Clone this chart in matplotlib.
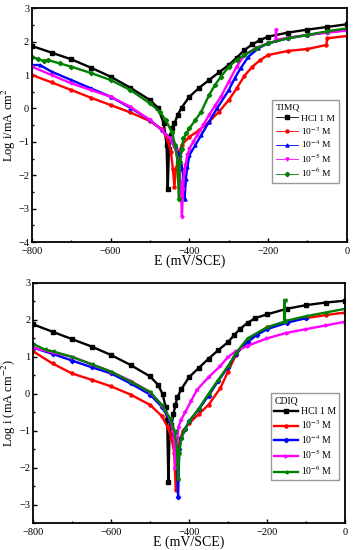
import matplotlib
matplotlib.use("Agg")
import matplotlib.pyplot as plt
from matplotlib.ticker import MultipleLocator

plt.rcParams["font.family"] = ["Liberation Serif", "DejaVu Serif"]
plt.rcParams["mathtext.fontset"] = "stix"

# --- TIMQ panel: potential (mV/SCE) and log i ---
timq_hcl_E = [-800, -750, -700, -650, -600, -550, -500, -480, -465, -458, -455, -452, -447, -443, -438, -430, -420, -400, -375, -350, -325, -300, -280, -260, -240, -220, -200, -150, -100, -50, 0]
timq_hcl_i = [1.87, 1.67, 1.47, 1.22, 0.95, 0.62, 0.25, 0.02, -0.45, -1.1, -2.4, -1.2, -0.8, -0.6, -0.45, -0.2, 0.02, 0.35, 0.62, 0.85, 1.08, 1.3, 1.52, 1.75, 1.92, 2.05, 2.15, 2.27, 2.36, 2.44, 2.52]

timq_m3_E = [-800, -750, -700, -650, -600, -550, -500, -470, -455, -447, -442, -438, -434, -430, -425, -420, -400, -375, -350, -325, -300, -280, -260, -240, -220, -200, -150, -100, -52, -50, 0]
timq_m3_i = [1.0, 0.78, 0.55, 0.32, 0.1, -0.12, -0.38, -0.62, -0.95, -1.3, -1.8, -2.35, -1.8, -1.6, -1.3, -1.1, -0.85, -0.65, -0.4, -0.1, 0.25, 0.6, 0.98, 1.25, 1.45, 1.6, 1.72, 1.78, 1.9, 2.1, 2.17]

timq_m4_E = [-800, -780, -750, -700, -650, -600, -550, -500, -470, -450, -435, -425, -418, -414, -412, -409, -405, -400, -385, -370, -350, -330, -300, -285, -270, -250, -225, -200, -150, -100, -50, 0]
timq_m4_i = [1.3, 1.3, 1.1, 0.85, 0.6, 0.35, 0.02, -0.35, -0.65, -0.88, -1.15, -1.4, -1.8, -2.2, -2.7, -2.1, -1.75, -1.4, -1.1, -0.8, -0.4, 0.0, 0.55, 0.9, 1.2, 1.55, 1.8, 1.95, 2.1, 2.2, 2.28, 2.35]

timq_m5_E = [-800, -750, -700, -650, -600, -550, -500, -470, -450, -435, -428, -422, -419, -416, -413, -410, -405, -400, -390, -380, -365, -350, -335, -320, -300, -280, -260, -230, -200, -181, -180, -179, -150, -100, -50, 0]
timq_m5_i = [1.25, 1.0, 0.75, 0.55, 0.35, 0.05, -0.35, -0.65, -0.9, -1.25, -1.6, -2.2, -3.25, -2.4, -1.9, -1.7, -1.4, -1.2, -1.0, -0.8, -0.5, -0.2, 0.08, 0.35, 0.8, 1.25, 1.6, 1.82, 1.95, 2.02, 2.35, 2.05, 2.12, 2.2, 2.27, 2.33]

timq_m6_E = [-800, -785, -770, -760, -730, -700, -650, -600, -550, -500, -475, -460, -445, -436, -430, -427, -424, -420, -415, -408, -400, -385, -370, -350, -335, -320, -300, -280, -260, -230, -200, -150, -100, -50, 0]
timq_m6_i = [1.55, 1.48, 1.42, 1.45, 1.35, 1.25, 1.06, 0.85, 0.55, 0.15, -0.1, -0.35, -0.7, -1.1, -1.6, -2.7, -1.6, -1.2, -0.9, -0.75, -0.6, -0.35, -0.1, 0.4, 0.7, 0.95, 1.25, 1.45, 1.6, 1.8, 1.95, 2.1, 2.2, 2.31, 2.4]

# --- CDIQ panel ---
cdiq_hcl_E = [-800, -750, -700, -650, -600, -550, -500, -480, -468, -460, -456, -453, -450, -445, -440, -435, -430, -420, -400, -375, -350, -325, -300, -285, -270, -250, -230, -200, -150, -100, -50, 0]
cdiq_hcl_i = [1.88, 1.68, 1.48, 1.28, 1.05, 0.78, 0.47, 0.25, 0.0, -0.35, -0.7, -2.4, -1.1, -0.85, -0.55, -0.3, -0.1, 0.12, 0.45, 0.7, 0.95, 1.18, 1.4, 1.58, 1.75, 1.92, 2.05, 2.15, 2.3, 2.4, 2.47, 2.52]

cdiq_m3_E = [-800, -750, -700, -650, -600, -550, -500, -470, -455, -445, -438, -434, -431, -428, -422, -415, -400, -375, -350, -320, -300, -280, -250, -200, -150, -100, -50, 0]
cdiq_m3_i = [1.15, 0.82, 0.55, 0.38, 0.2, -0.02, -0.3, -0.6, -0.9, -1.2, -1.6, -2.6, -1.6, -1.4, -1.2, -1.0, -0.8, -0.55, -0.3, 0.15, 0.6, 1.05, 1.45, 1.8, 1.95, 2.05, 2.13, 2.2]

cdiq_m4_E = [-800, -750, -700, -650, -600, -550, -500, -470, -450, -438, -432, -428, -425, -420, -410, -400, -375, -350, -325, -300, -280, -250, -225, -200, -150, -100]
cdiq_m4_i = [1.25, 1.08, 0.9, 0.72, 0.55, 0.28, -0.02, -0.35, -0.7, -1.05, -1.5, -2.8, -1.5, -1.2, -0.95, -0.75, -0.42, -0.05, 0.35, 0.72, 1.08, 1.4, 1.6, 1.75, 1.92, 2.05]

cdiq_m5_E = [-800, -750, -700, -650, -600, -550, -500, -470, -450, -440, -435, -431, -427, -420, -410, -395, -380, -350, -320, -300, -280, -250, -200, -150, -100, -50, 0]
cdiq_m5_i = [1.25, 1.12, 1.0, 0.8, 0.6, 0.35, 0.05, -0.3, -0.65, -1.0, -2.0, -1.3, -0.9, -0.7, -0.5, -0.2, 0.1, 0.45, 0.75, 1.0, 1.15, 1.3, 1.5, 1.65, 1.75, 1.85, 1.95]

cdiq_m6_E = [-800, -770, -750, -700, -650, -600, -550, -500, -470, -450, -437, -431, -428, -425, -420, -410, -400, -375, -350, -325, -300, -280, -250, -200, -156, -155, -154, -100, -50, 0]
cdiq_m6_i = [1.35, 1.2, 1.15, 1.0, 0.8, 0.6, 0.33, 0.05, -0.3, -0.65, -1.0, -1.5, -2.3, -1.6, -1.2, -0.95, -0.75, -0.4, 0.0, 0.38, 0.75, 1.1, 1.5, 1.8, 1.95, 2.55, 1.97, 2.1, 2.2, 2.3]

labels = ["HCl 1 M", "10$^{-3}$ M", "10$^{-4}$ M", "10$^{-5}$ M", "10$^{-6}$ M"]
colors = ["black", "red", "blue", "magenta", "green"]
top_markers = ["s", "o", "^", "v", "D"]
bottom_markers = ["s", "o", "D", ">", "<"]

timq = [(timq_hcl_E, timq_hcl_i), (timq_m3_E, timq_m3_i), (timq_m4_E, timq_m4_i),
        (timq_m5_E, timq_m5_i), (timq_m6_E, timq_m6_i)]
cdiq = [(cdiq_hcl_E, cdiq_hcl_i), (cdiq_m3_E, cdiq_m3_i), (cdiq_m4_E, cdiq_m4_i),
        (cdiq_m5_E, cdiq_m5_i), (cdiq_m6_E, cdiq_m6_i)]


def style_axes(ax, ylo, yhi, ylabel, label_x):
    ax.set_xlim(-800, 0)
    ax.set_ylim(ylo, yhi)
    ax.xaxis.set_major_locator(MultipleLocator(200))
    ax.xaxis.set_minor_locator(MultipleLocator(100))
    ax.yaxis.set_major_locator(MultipleLocator(1))
    ax.yaxis.set_minor_locator(MultipleLocator(0.5))
    ax.tick_params(which="both", direction="in", labelsize=7.5, width=1, pad=2)
    ax.tick_params(axis="x", pad=3.5)
    ax.tick_params(which="major", length=3)
    ax.tick_params(which="minor", length=1.5)
    for s in ax.spines.values():
        s.set_linewidth(1.3)
    ax.set_xlabel("E (mV/SCE)", fontsize=10, labelpad=-1)
    ax.set_ylabel(ylabel, fontsize=9)
    ax.yaxis.set_label_coords(label_x, 0.5)


fig = plt.figure(figsize=(3.55, 5.5), dpi=100)
ax1 = fig.add_axes([0.09, 0.56, 0.887, 0.425])
ax2 = fig.add_axes([0.093, 0.049, 0.879, 0.4365])

for (E, i), lab, c, m in zip(timq, labels, colors, top_markers):
    ax1.plot(E, i, color=c, lw=1.7, marker=m, ms=2.2, label=lab)
for (E, i), lab, c, m in zip(cdiq, labels, colors, bottom_markers):
    ax2.plot(E, i, color=c, lw=1.7, marker=m, ms=2.2, label=lab)

style_axes(ax1, -4, 3, "Log i/mA cm$^{2}$", -0.045)
style_axes(ax2, -3.5, 3, "Log i (mA cm$^{-2}$)", -0.048)

leg1 = ax1.legend(title="TIMQ", loc="center right", bbox_to_anchor=(0.99, 0.43),
                  fontsize=6.8, title_fontsize=6.8, frameon=True, fancybox=False,
                  edgecolor="gray", handlelength=2.4, handletextpad=0.3,
                  labelspacing=0.25, borderpad=0.4)
leg1._legend_box.align = "left"
for line in leg1.get_lines():
    line.set_linewidth(0.6)

leg2 = ax2.legend(title="CDIQ", loc="center right", bbox_to_anchor=(0.995, 0.36),
                  fontsize=7, title_fontsize=7, frameon=True, fancybox=False,
                  edgecolor="gray", handlelength=2.4, handletextpad=0.3,
                  labelspacing=0.2, borderpad=0.3)
leg2._legend_box.align = "left"

fig.savefig("out.png", dpi=100)
